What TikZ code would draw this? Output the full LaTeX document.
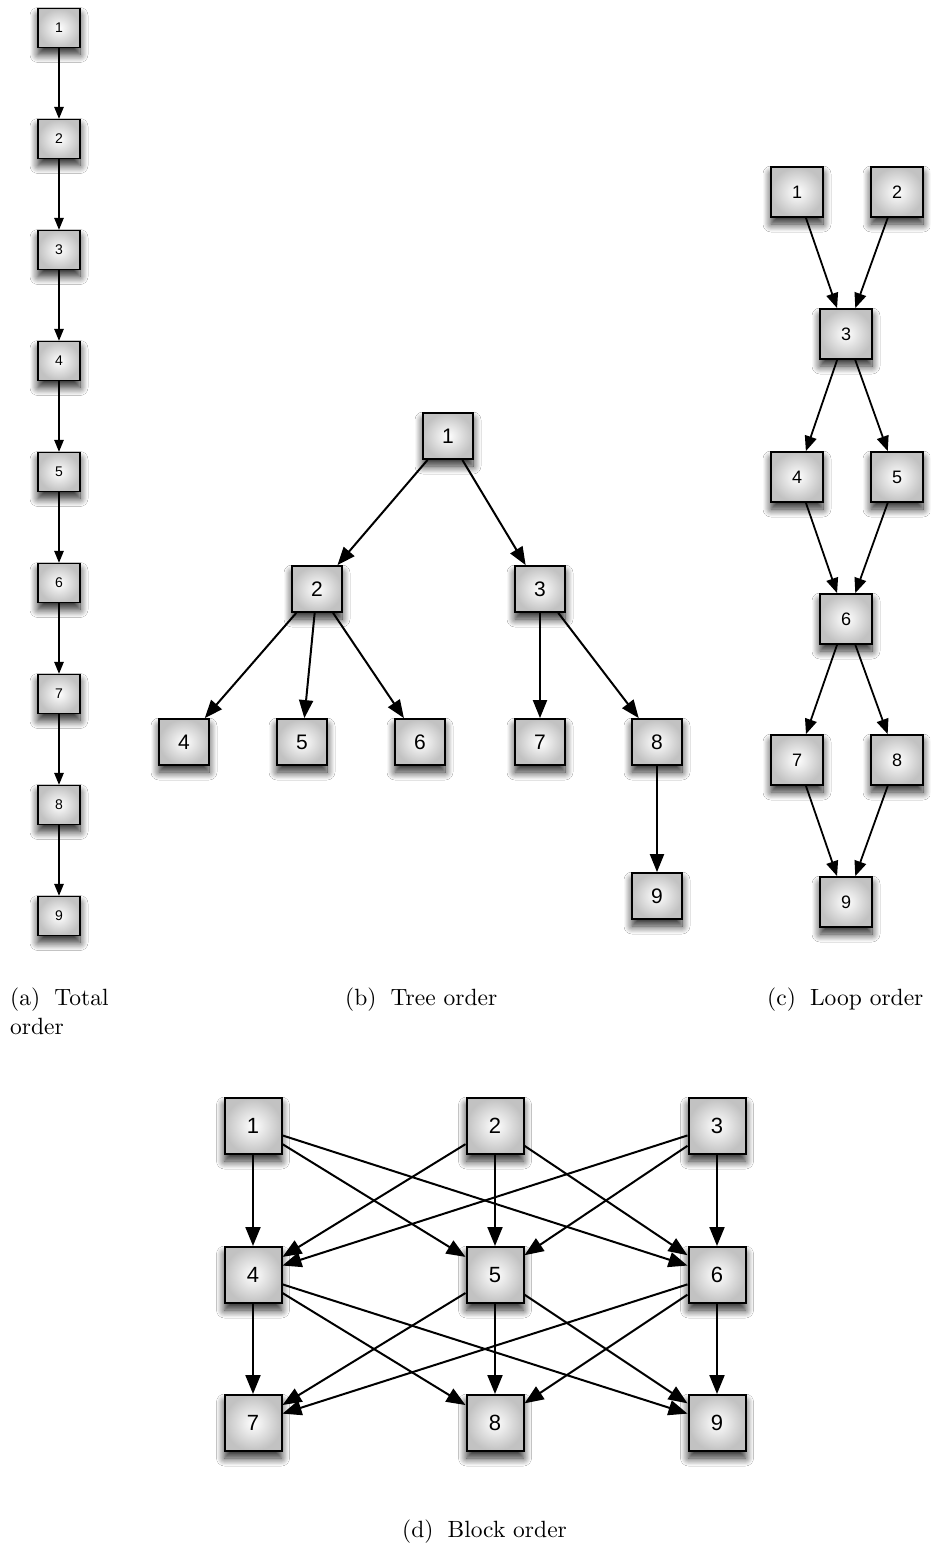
\documentclass[tikz,border=0pt]{standalone}
\usepackage{fontspec}
\newfontfamily\boxfont{Liberation Sans}
\newfontfamily\capfont{lmroman10-regular}[Extension=.otf]
\usetikzlibrary{arrows.meta,shadows.blur}
\begin{document}
\begin{tikzpicture}[x=1pt,y=-1pt,
  boxbase/.style={draw, inner sep=0pt, inner color=white, outer color=black!24,
    blur shadow={shadow xshift=0pt, shadow yshift=-7pt, shadow blur radius=8pt, shadow blur steps=12, shadow opacity=85}},
  boxa/.style={boxbase, line width=1.4pt, minimum width=42pt, minimum height=39pt, font=\boxfont\fontsize{14}{14}\selectfont},
  boxb/.style={boxbase, line width=1.8pt, minimum width=50pt, minimum height=46pt, font=\boxfont\fontsize{21}{21}\selectfont},
  boxc/.style={boxbase, line width=1.8pt, minimum width=52pt, minimum height=50pt, font=\boxfont\fontsize{18}{18}\selectfont},
  boxd/.style={boxbase, line width=2pt, minimum width=57pt, minimum height=56pt, font=\boxfont\fontsize{22}{22}\selectfont},
  arra/.style={-{Triangle[length=12pt,width=9.5pt]}, line width=1.4pt},
  arrb/.style={-{Triangle[length=18pt,width=14pt]}, line width=2pt},
  arrc/.style={-{Triangle[length=15pt,width=12pt]}, line width=1.8pt},
  arrd/.style={-{Triangle[length=19pt,width=15pt]}, line width=2pt},
  captext/.style={anchor=base west, inner sep=0pt, font=\capfont\fontsize{23.5}{28}\selectfont}
]
\fill[white] (0,0) rectangle (930,1547);
\path[use as bounding box] (0,0) rectangle (930,1547);

% (a) Total order
\foreach \i/\y in {1/28,2/139,3/250,4/361,5/472,6/583,7/694,8/805,9/916}
  \node[boxa] (a\i) at (59,\y) {\i};
\foreach \i/\j in {1/2,2/3,3/4,4/5,5/6,6/7,7/8,8/9}
  \draw[arra] (a\i) -- (a\j);

% (b) Tree order
\node[boxb] (b1) at (448,436) {1};
\node[boxb] (b2) at (317,589) {2};
\node[boxb] (b3) at (540,589) {3};
\node[boxb] (b4) at (184,742) {4};
\node[boxb] (b5) at (302,742) {5};
\node[boxb] (b6) at (420,742) {6};
\node[boxb] (b7) at (540,742) {7};
\node[boxb] (b8) at (657,742) {8};
\node[boxb] (b9) at (657,896) {9};
\foreach \i/\j in {1/2,1/3,2/4,2/5,2/6,3/7,3/8,8/9}
  \draw[arrb] (b\i) -- (b\j);

% (c) Loop order
\node[boxc] (c1) at (797,192) {1};
\node[boxc] (c2) at (897,192) {2};
\node[boxc] (c3) at (846,334) {3};
\node[boxc] (c4) at (797,477) {4};
\node[boxc] (c5) at (897,477) {5};
\node[boxc] (c6) at (846,619) {6};
\node[boxc] (c7) at (797,760) {7};
\node[boxc] (c8) at (897,760) {8};
\node[boxc] (c9) at (846,902) {9};
\foreach \i/\j in {1/3,2/3,3/4,3/5,4/6,5/6,6/7,6/8,7/9,8/9}
  \draw[arrc] (c\i) -- (c\j);

% (d) Block order
\node[boxd] (d1) at (253,1126) {1};
\node[boxd] (d2) at (495,1126) {2};
\node[boxd] (d3) at (717,1126) {3};
\node[boxd] (d4) at (253,1275) {4};
\node[boxd] (d5) at (495,1275) {5};
\node[boxd] (d6) at (717,1275) {6};
\node[boxd] (d7) at (253,1423) {7};
\node[boxd] (d8) at (495,1423) {8};
\node[boxd] (d9) at (717,1423) {9};
\foreach \i in {1,2,3}
  \foreach \j in {4,5,6}
    \draw[arrd] (d\i) -- (d\j);
\foreach \i in {4,5,6}
  \foreach \j in {7,8,9}
    \draw[arrd] (d\i) -- (d\j);

% captions
\node[captext] (capa1) at (10,1005) {(a)\hspace{0.6em}Total};
\node[captext] (capa2) at (10,1034) {order};
\node[captext] (capb) at (345,1005) {(b)\hspace{0.6em}Tree order};
\node[captext] (capc) at (767,1005) {(c)\hspace{0.6em}Loop order};
\node[captext] (capd) at (402,1537) {(d)\hspace{0.6em}Block order};
\end{tikzpicture}
\end{document}
